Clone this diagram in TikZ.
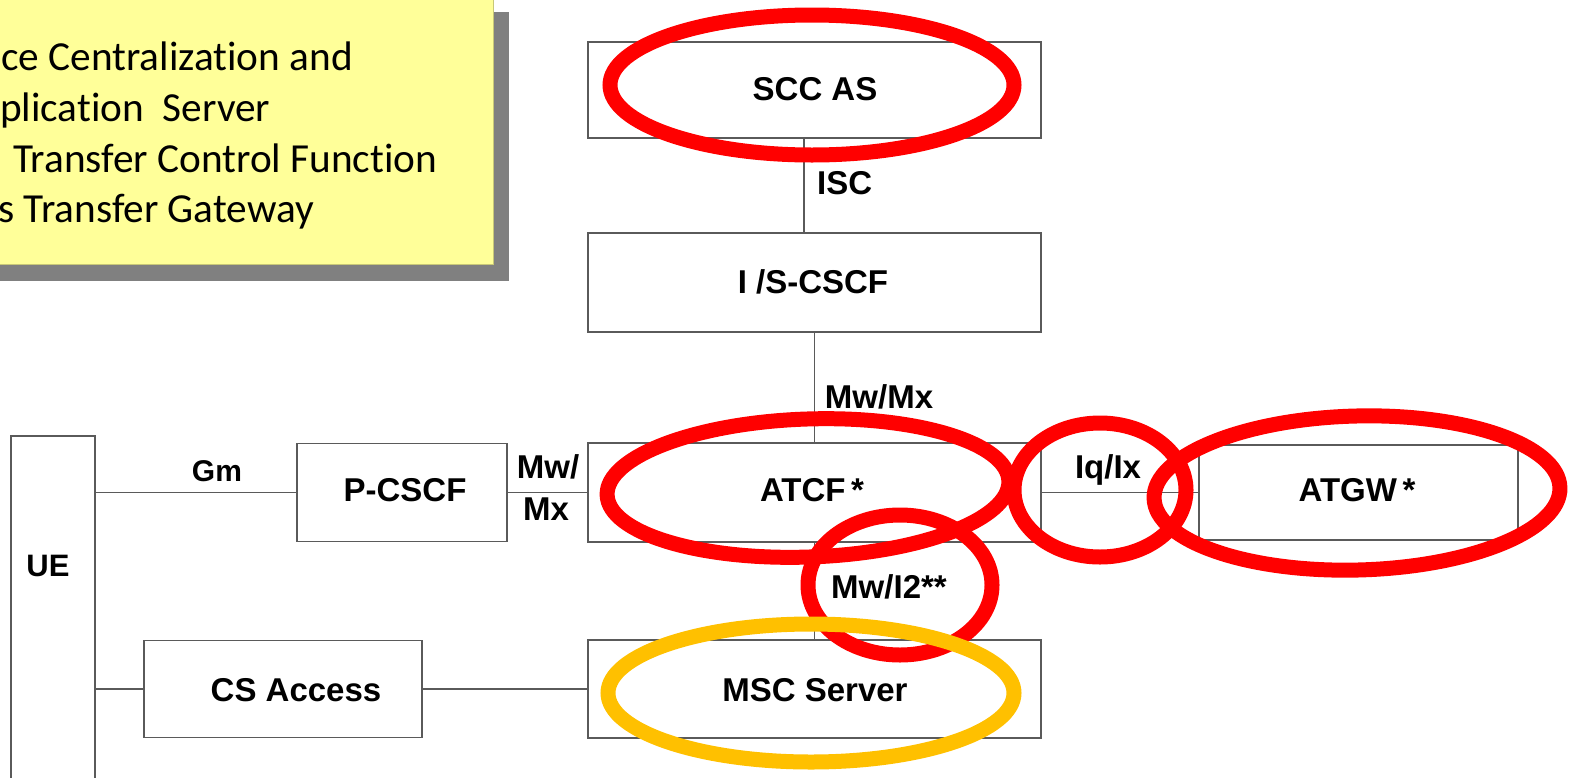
\documentclass[tikz,border=0pt]{standalone}
\usepackage{fontspec}
\setmainfont{Liberation Sans}
\newfontfamily\notefont[Ligatures=NoCommon]{Carlito}
\definecolor{notefill}{HTML}{FFFF99}
\definecolor{noteedge}{HTML}{C8C878}
\definecolor{noteshade}{HTML}{808080}
\definecolor{boxline}{HTML}{5A5A5A}
\definecolor{markred}{HTML}{FF0000}
\definecolor{markorange}{HTML}{FFC000}
\newcommand\lblfont{\fontsize{33}{39}\selectfont\bfseries}
\newcommand\gmfont{\fontsize{30}{36}\selectfont\bfseries}
\newcommand\notesize{\notefont\fontsize{41.3}{49}\selectfont}
\begin{document}
\begin{tikzpicture}[x=1pt,y=-1pt,
  box/.style={draw=boxline, line width=1.3pt, rectangle, inner sep=0pt},
  conn/.style={draw=boxline, line width=1.3pt},
  lbl/.style={font=\lblfont, inner sep=0pt},
  noteline/.style={font=\notesize, inner sep=0pt, anchor=base west},
  hiloop/.style={draw=markred, line width=15pt},
  hiloopo/.style={draw=markorange, line width=15pt}]
\useasboundingbox (0,0) rectangle (1576,777);
\clip (0,0) rectangle (1576,777);

% legend note with drop shadow
\fill[noteshade] (-10,12) rectangle (509,281);
\filldraw[fill=notefill, draw=noteedge, line width=1pt] (-10,-4) rectangle (493,264);
\node[noteline] (n1) at (1,70) {ce Centralization and};
\node[noteline] (n2) at (0,121) {plication\ \ Server};
\node[noteline] (n3) at (13,172) {Transfer Control Function};
\node[noteline] (n4) at (-2,222) {s Transfer Gateway};

% network elements
\node[box, minimum width=453pt, minimum height=96pt] (scc) at (814.5,90) {};
\node[lbl] (scct) at (815,89) {SCC AS};
\node[box, minimum width=453pt, minimum height=99pt] (icscf) at (814.5,282.5) {};
\node[lbl] (icscft) at (813,282) {I /S-CSCF};
\node[box, minimum width=453pt, minimum height=99pt] (atcf) at (814.5,492.5) {};
\node[lbl] (atcft) at (812,490) {ATCF\,*};
\node[box, minimum width=453pt, minimum height=98pt] (msc) at (814.5,689) {};
\node[lbl] (msct) at (815,690) {MSC Server};
\node[box, minimum width=210pt, minimum height=98pt] (pcscf) at (402,492.5) {};
\node[lbl] (pcscft) at (405,490) {P-CSCF};
\node[box, minimum width=278pt, minimum height=97pt] (csacc) at (283,689) {};
\node[lbl] (csacct) at (296,690) {CS Access};
\node[box, minimum width=319pt, minimum height=95pt] (atgw) at (1358.5,492.5) {};
\node[lbl] (atgwt) at (1357,490) {ATGW\,*};
\node[box, minimum width=84pt, minimum height=380pt] (ue) at (53,626) {};
\node[lbl, font=\fontsize{31}{37}\selectfont\bfseries] (uet) at (48,566) {UE};

% reference points
\draw[conn] ([xshift=-10.5pt]scc.south) -- ([xshift=-10.5pt]icscf.north);
\draw[conn] (icscf.south) -- (atcf.north);
\draw[conn] (atcf.south) -- (msc.north);
\draw[conn] (ue.east |- pcscf.west) -- (pcscf.west);
\draw[conn] (pcscf.east) -- (pcscf.east -| atcf.west);
\draw[conn] (atcf.east) -- (atcf.east -| atgw.west);
\draw[conn] (ue.east |- csacc.west) -- (csacc.west);
\draw[conn] (csacc.east) -- (csacc.east -| msc.west);

\node[lbl, anchor=west] (isc) at (817,183) {ISC};
\node[lbl] (mwmx) at (879,397) {Mw/Mx};
\node[lbl] (mw1) at (548,467) {Mw/};
\node[lbl] (mx1) at (546,509) {Mx};
\node[inner sep=0pt, font=\gmfont] (gm) at (217,471) {Gm};
\node[lbl] (iqix) at (1108,470) {Iq/Ix};
\node[lbl] (mwi2) at (889,587) {Mw/I2**};

% highlight rings
\draw[hiloop] (812,85) ellipse [x radius=202pt, y radius=70pt];
\draw[hiloop, rotate around={2:(808,488)}] (808,488) ellipse [x radius=201pt, y radius=69pt];
\draw[hiloop] (1100,490) ellipse [x radius=86pt, y radius=67pt];
\draw[hiloop, rotate around={1.5:(1357,493)}] (1357,493) ellipse [x radius=203pt, y radius=77pt];
\draw[hiloop] (900,585) ellipse [x radius=92pt, y radius=70pt];
\draw[hiloopo] (811,693) ellipse [x radius=203pt, y radius=69pt];
\end{tikzpicture}
\end{document}
